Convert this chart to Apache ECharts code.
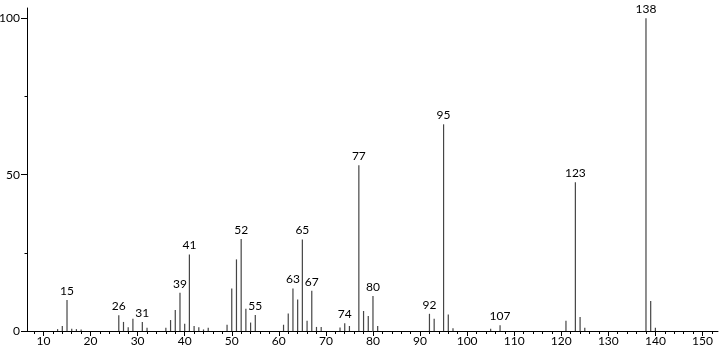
<!DOCTYPE html>
<html>
<head>
<meta charset="utf-8">
<script src="https://cdn.jsdelivr.net/npm/echarts@6/dist/echarts.min.js"></script>
<style>
html,body{margin:0;padding:0;background:#fff;}
#c{width:720px;height:352px;}
</style>
</head>
<body>
<div id="c"></div>
<script>
// m/z values
var mz = [13,14,15,16,17,18,26,27,28,29,31,32,36,37,38,39,40,41,42,43,44,45,49,50,51,52,53,54,55,
          61,62,63,64,65,66,67,68,69,73,74,75,77,78,79,80,81,92,93,95,96,97,105,107,121,123,124,125,138,139,140];
// relative intensities (%)
var intensity = [0.6,1.6,9.9,0.7,0.6,0.5,5.0,2.9,1.2,3.9,2.9,1.0,1.0,3.5,6.7,12.2,2.3,24.5,1.6,1.2,0.5,1.0,2.0,13.6,22.9,29.4,7.1,2.7,5.1,
                 2.0,5.6,13.6,10.1,29.3,3.3,12.9,1.3,1.3,1.1,2.5,1.6,53.0,6.4,4.8,11.2,1.6,5.5,3.9,66.1,5.3,0.9,0.7,1.8,3.3,47.6,4.5,1.0,100,9.6,1.0];
// peaks that carry a label
var labeledPeaks = [15,26,31,39,41,52,55,63,65,67,74,77,80,92,95,107,123,138];
// axis tick values
var xMajorTicks = [10,20,30,40,50,60,70,80,90,100,110,120,130,140,150];
var xMinorTicks = [8,12,14,16,18,22,24,26,28,32,34,36,38,42,44,46,48,52,54,56,58,62,64,66,68,72,74,76,78,
                   82,84,86,88,92,94,96,98,102,104,106,108,112,114,116,118,122,124,126,128,132,134,136,138,142,144,146,148,152];
var yMajorTicks = [0,50,100];
var yMinorTicks = [25,75];

var data = mz.map(function (m, i) {
  var item = { value: [m, intensity[i]] };
  if (labeledPeaks.indexOf(m) >= 0) item.label = { show: true };
  return item;
});

var FONT = 'Lato';
var chart = echarts.init(document.getElementById('c'), null, { renderer: 'canvas' });
chart.setOption({
  animation: false,
  backgroundColor: '#fff',
  grid: { left: 27, right: 2, top: 8, bottom: 21, outerBoundsMode: 'none', containLabel: false },
  xAxis: [{
    type: 'value', min: 6.5, max: 153.3,
    axisLine: { show: true, lineStyle: { color: '#000', width: 1 } },
    axisTick: { show: true, customValues: xMajorTicks, length: 5, lineStyle: { color: '#000' } },
    axisLabel: { show: true, customValues: xMajorTicks, margin: 4, color: '#000', fontFamily: FONT, fontSize: 12 },
    splitLine: { show: false }
  }, {
    type: 'value', min: 6.5, max: 153.3, position: 'bottom',
    axisLine: { show: false },
    axisTick: { show: true, customValues: xMinorTicks, length: 3, lineStyle: { color: '#000' } },
    axisLabel: { show: false },
    splitLine: { show: false }
  }],
  yAxis: [{
    type: 'value', min: 0, max: 103.3,
    axisLine: { show: true, lineStyle: { color: '#000', width: 1 } },
    axisTick: { show: true, customValues: yMajorTicks, length: 6, lineStyle: { color: '#000' } },
    axisLabel: { show: true, customValues: yMajorTicks, margin: 7, color: '#000', fontFamily: FONT, fontSize: 12 },
    splitLine: { show: false }
  }, {
    type: 'value', min: 0, max: 103.3, position: 'left',
    axisLine: { show: false },
    axisTick: { show: true, customValues: yMinorTicks, length: 2.5, lineStyle: { color: '#000' } },
    axisLabel: { show: false },
    splitLine: { show: false }
  }],
  series: [{
    type: 'bar',
    xAxisIndex: 0, yAxisIndex: 0,
    barWidth: 1.2,
    itemStyle: { color: '#454545' },
    label: {
      show: false, position: 'top', distance: 3, color: '#000', fontFamily: FONT, fontSize: 12,
      formatter: function (p) { return String(p.value[0]); }
    },
    data: data
  }]
});
</script>
</body>
</html>
